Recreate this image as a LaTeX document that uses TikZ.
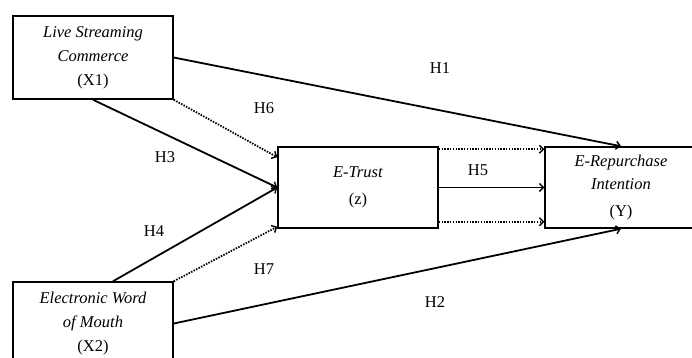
\documentclass[tikz,border=0pt]{standalone}
\usepackage{fontspec}
\setmainfont{Liberation Serif}
\usetikzlibrary{arrows.meta}
\begin{document}
\begin{tikzpicture}[x=1pt,y=-1pt,
  font=\fontsize{16.5}{23.5}\selectfont,
  varbox/.style={draw,line width=1.5pt,minimum width=160pt,align=center,inner sep=0pt},
  path/.style={line width=1.8pt,-{Straight Barb[length=4pt,width=8pt,line width=1.4pt]}},
  dotpath/.style={path,dash pattern=on 1.5pt off 1.3pt},
  hlab/.style={inner sep=0pt}]
\useasboundingbox (0,0) rectangle (692,358);
\clip (0,0) rectangle (692,358);
% constructs
\node[varbox,minimum height=83pt] (X1) at (93,57.5)
  {\textit{Live Streaming}\\[0.5pt]\textit{Commerce}\\[0.5pt](X1)};
\node[varbox,minimum height=83pt] (X2) at (93,323.5)
  {\textit{Electronic Word}\\[0.5pt]\textit{of Mouth}\\[0.5pt](X2)};
\node[varbox,minimum height=81pt] (ET) at (358,187.5)
  {\textit{E-Trust}\\[3pt](z)};
\node[varbox,minimum width=152pt,minimum height=81pt] (Y) at (621,187.5)
  {\textit{E-Repurchase}\\[0pt]\textit{Intention}\\[3pt](Y)};
% direct paths
\draw[path] (X1.east) -- (Y.north);
\draw[path] (X2.east) -- (Y.south);
\draw[path] (X1.south) -- (ET.west);
\draw[path] ([xshift=20pt]X2.north) -- (ET.west);
\draw[path] (ET.east) -- (ET.east -| Y.west);
% mediated paths
\draw[dotpath] (X1.south east) -- ([yshift=-11pt]ET.north west);
\draw[dotpath] (X2.north east) -- ([yshift=2pt]ET.south west);
\draw[dotpath] ([yshift=-3pt]ET.north east) -- ([yshift=-3pt]ET.north east -| Y.west);
\draw[dotpath] ([yshift=7pt]ET.south east) -- ([yshift=7pt]ET.south east -| Y.west);
% hypothesis labels
\node[hlab] (h1) at (440,68) {H1};
\node[hlab] (h2) at (435,302) {H2};
\node[hlab] (h3) at (165,157) {H3};
\node[hlab] (h4) at (154,231) {H4};
\node[hlab] (h5) at (478,170) {H5};
\node[hlab] (h6) at (264,108) {H6};
\node[hlab] (h7) at (264,269) {H7};
\end{tikzpicture}
\end{document}
